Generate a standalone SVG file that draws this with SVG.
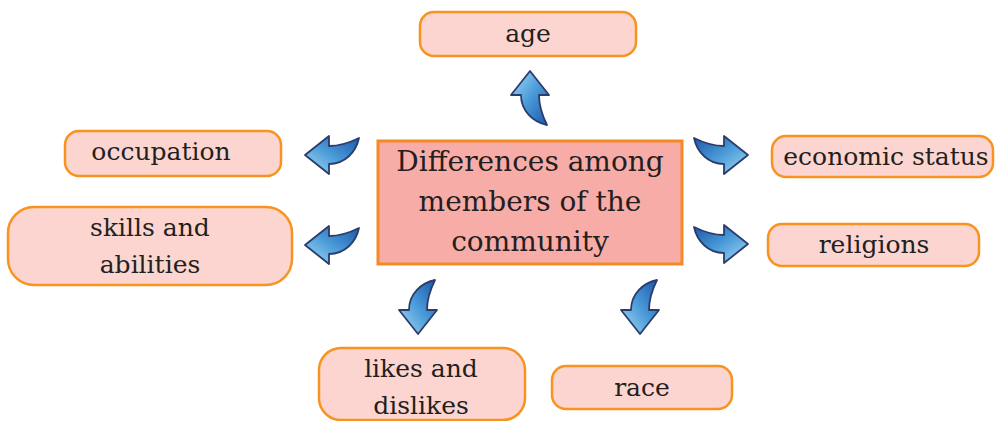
<svg xmlns="http://www.w3.org/2000/svg" xmlns:xlink="http://www.w3.org/1999/xlink" width="997" height="421" viewBox="0 0 997 421">
<style>
.box{fill:#fcd5d0;stroke:#f7931e;stroke-width:2.5}
.main{fill:#f8aca8;stroke:#f58a24;stroke-width:3}
text{font-family:"DejaVu Serif","Liberation Serif",serif;fill:#231f20;text-anchor:middle}
.t{font-size:25px}
.tm{font-size:28px}
</style>
<defs>
<linearGradient id="g" x1="0" y1="0" x2="1" y2="1">
<stop offset="0" stop-color="#a6dcf7"/>
<stop offset="0.5" stop-color="#4a9ad8"/>
<stop offset="1" stop-color="#1a56a8"/>
</linearGradient>
<path id="arr" d="M0,-27 L19,-3 L9,-3 C9,9 12,17 17,27 C3,24 -9,13 -9,-3 L-19,-3 Z" fill="url(#g)" stroke="#2b3d6b" stroke-width="1.8" stroke-linejoin="round"/>
</defs>
<rect width="997" height="421" fill="#ffffff"/>
<g id="connectors">
<use xlink:href="#arr" transform="translate(530,98)"/>
<use xlink:href="#arr" transform="translate(332,155) rotate(-90)"/>
<use xlink:href="#arr" transform="translate(332,245) rotate(-90)"/>
<use xlink:href="#arr" transform="translate(721,155) rotate(90) scale(-1,1)"/>
<use xlink:href="#arr" transform="translate(721,244) rotate(90) scale(-1,1)"/>
<use xlink:href="#arr" transform="translate(418,307) scale(1,-1)"/>
<use xlink:href="#arr" transform="translate(640,307) scale(1,-1)"/>
</g>
<g id="center">
<rect class="main" x="378" y="141" width="304" height="123"/>
<text class="tm" x="530" y="171">Differences among</text>
<text class="tm" x="530" y="211">members of the</text>
<text class="tm" x="530" y="251">community</text>
</g>
<g id="age">
<rect class="box" x="420" y="12" width="216" height="44" rx="14"/>
<text class="t" x="528" y="42">age</text>
</g>
<g id="occupation">
<rect class="box" x="65" y="131" width="216" height="45" rx="14"/>
<text class="t" x="161" y="160">occupation</text>
</g>
<g id="skills">
<rect class="box" x="8" y="207" width="284" height="78" rx="26"/>
<text class="t" x="150" y="236">skills and</text>
<text class="t" x="150" y="273">abilities</text>
</g>
<g id="economic">
<rect class="box" x="772" y="136" width="221" height="41" rx="14"/>
<text class="t" x="886" y="165">economic status</text>
</g>
<g id="religions">
<rect class="box" x="768" y="224" width="211" height="42" rx="14"/>
<text class="t" x="874" y="253">religions</text>
</g>
<g id="likes">
<rect class="box" x="319" y="348" width="206" height="72" rx="22"/>
<text class="t" x="421" y="377">likes and</text>
<text class="t" x="421" y="414">dislikes</text>
</g>
<g id="race">
<rect class="box" x="552" y="366" width="180" height="43" rx="14"/>
<text class="t" x="642" y="396">race</text>
</g>
</svg>
